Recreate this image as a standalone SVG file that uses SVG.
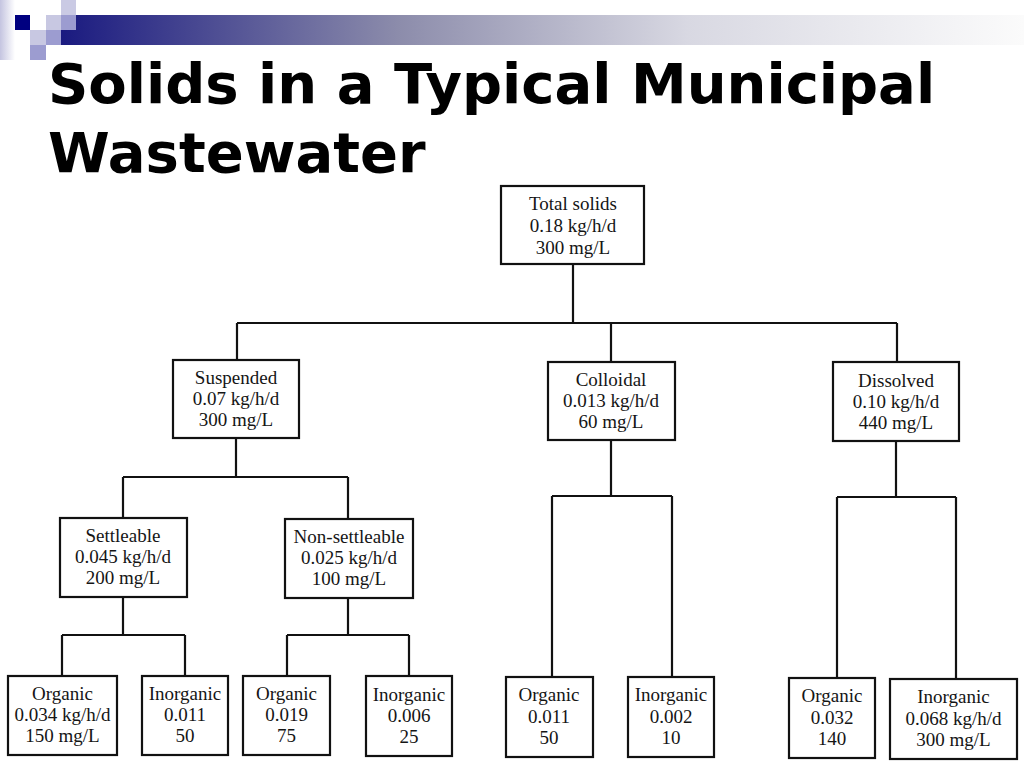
<svg xmlns="http://www.w3.org/2000/svg" width="1024" height="768" viewBox="0 0 1024 768">
<defs>
<linearGradient id="bar" x1="0" y1="0" x2="1" y2="0">
<stop offset="0" stop-color="#1a1a80"/>
<stop offset="0.35" stop-color="#8c8cab"/>
<stop offset="0.65" stop-color="#d8d8e2"/>
<stop offset="1" stop-color="#fbfbfb"/>
</linearGradient>
<linearGradient id="edge" x1="0" y1="0" x2="1" y2="0">
<stop offset="0" stop-color="#c4c4e0"/>
<stop offset="1" stop-color="#ffffff"/>
</linearGradient>
</defs>
<style>
.box{fill:#fff;stroke:#111;stroke-width:2.2}
.t{font-family:"Liberation Serif","Times New Roman",serif;font-size:19px;fill:#151515;text-anchor:middle}
.title{font-family:"DejaVu Sans",Verdana,sans-serif;font-weight:bold;font-size:56px;fill:#000}
.con{fill:none;stroke:#111;stroke-width:2.2}
</style>
<rect width="1024" height="768" fill="#fff"/>
<g id="decoration">
<rect x="0" y="0" width="15" height="60" fill="url(#edge)"/>
<rect x="61" y="15" width="963" height="30" fill="url(#bar)"/>
<rect x="15" y="15" width="15" height="15" fill="#000080"/>
<rect x="46" y="15" width="15" height="15" fill="#c8c8e2"/>
<rect x="61" y="15" width="15" height="15" fill="#9c9cd0"/>
<rect x="61" y="0" width="15" height="15" fill="#cacae4"/>
<rect x="30" y="30" width="16" height="15" fill="#c8c8e2"/>
<rect x="46" y="30" width="15" height="15" fill="#9c9cd0"/>
<rect x="30" y="45" width="16" height="15" fill="#9c9cd0"/>
</g>
<g id="title">
<text class="title" x="48" y="103">Solids in a Typical Municipal</text>
<text class="title" x="48" y="172">Wastewater</text>
</g>
<g id="connectors">
<path class="con" d="M573 264V323M237 323H897M237 323V360M611 323V362M897 323V362"/>
<path class="con" d="M236 438V477M123 477H348M123 477V518M348 477V519"/>
<path class="con" d="M123 597V635M62 635H185M62 635V676M185 635V676"/>
<path class="con" d="M348 598V635M287 635H409M287 635V676M409 635V676"/>
<path class="con" d="M611 440V496M552 496H672M552 496V677M672 496V677"/>
<path class="con" d="M896 441V497M837 497H956M837 497V678M956 497V679"/>
</g>
<g id="total">
<rect class="box" x="501" y="186" width="143" height="78"/>
<text class="t" x="573" y="210">Total solids</text>
<text class="t" x="573" y="232">0.18 kg/h/d</text>
<text class="t" x="573" y="254">300 mg/L</text>
</g>
<g id="suspended">
<rect class="box" x="173" y="360" width="126" height="78"/>
<text class="t" x="236" y="384">Suspended</text>
<text class="t" x="236" y="405">0.07 kg/h/d</text>
<text class="t" x="236" y="426">300 mg/L</text>
</g>
<g id="colloidal">
<rect class="box" x="548" y="362" width="127" height="78"/>
<text class="t" x="611" y="386">Colloidal</text>
<text class="t" x="611" y="407">0.013 kg/h/d</text>
<text class="t" x="611" y="428">60 mg/L</text>
</g>
<g id="dissolved">
<rect class="box" x="833" y="362" width="126" height="79"/>
<text class="t" x="896" y="387">Dissolved</text>
<text class="t" x="896" y="408">0.10 kg/h/d</text>
<text class="t" x="896" y="429">440 mg/L</text>
</g>
<g id="settleable">
<rect class="box" x="60" y="518" width="127" height="79"/>
<text class="t" x="123" y="542">Settleable</text>
<text class="t" x="123" y="563">0.045 kg/h/d</text>
<text class="t" x="123" y="584">200 mg/L</text>
</g>
<g id="nonsettleable">
<rect class="box" x="285" y="519" width="128" height="79"/>
<text class="t" x="349" y="543">Non-settleable</text>
<text class="t" x="349" y="564">0.025 kg/h/d</text>
<text class="t" x="349" y="585">100 mg/L</text>
</g>
<g id="settle-organic">
<rect class="box" x="8" y="676" width="109" height="79"/>
<text class="t" x="62.5" y="700">Organic</text>
<text class="t" x="62.5" y="721">0.034 kg/h/d</text>
<text class="t" x="62.5" y="742">150 mg/L</text>
</g>
<g id="settle-inorganic">
<rect class="box" x="142" y="676" width="86" height="79"/>
<text class="t" x="185" y="700">Inorganic</text>
<text class="t" x="185" y="721">0.011</text>
<text class="t" x="185" y="742">50</text>
</g>
<g id="nonsettle-organic">
<rect class="box" x="243" y="676" width="87" height="79"/>
<text class="t" x="286.5" y="700">Organic</text>
<text class="t" x="286.5" y="721">0.019</text>
<text class="t" x="286.5" y="742">75</text>
</g>
<g id="nonsettle-inorganic">
<rect class="box" x="366" y="676" width="86" height="80"/>
<text class="t" x="409" y="701">Inorganic</text>
<text class="t" x="409" y="722">0.006</text>
<text class="t" x="409" y="743">25</text>
</g>
<g id="colloid-organic">
<rect class="box" x="506" y="677" width="87" height="80"/>
<text class="t" x="549" y="701">Organic</text>
<text class="t" x="549" y="723">0.011</text>
<text class="t" x="549" y="744">50</text>
</g>
<g id="colloid-inorganic">
<rect class="box" x="628" y="677" width="86" height="80"/>
<text class="t" x="671" y="701">Inorganic</text>
<text class="t" x="671" y="723">0.002</text>
<text class="t" x="671" y="744">10</text>
</g>
<g id="dissolved-organic">
<rect class="box" x="789" y="678" width="86" height="80"/>
<text class="t" x="832" y="702">Organic</text>
<text class="t" x="832" y="724">0.032</text>
<text class="t" x="832" y="745">140</text>
</g>
<g id="dissolved-inorganic">
<rect class="box" x="890" y="679" width="127" height="80"/>
<text class="t" x="953.5" y="703">Inorganic</text>
<text class="t" x="953.5" y="725">0.068 kg/h/d</text>
<text class="t" x="953.5" y="746">300 mg/L</text>
</g>
</svg>
